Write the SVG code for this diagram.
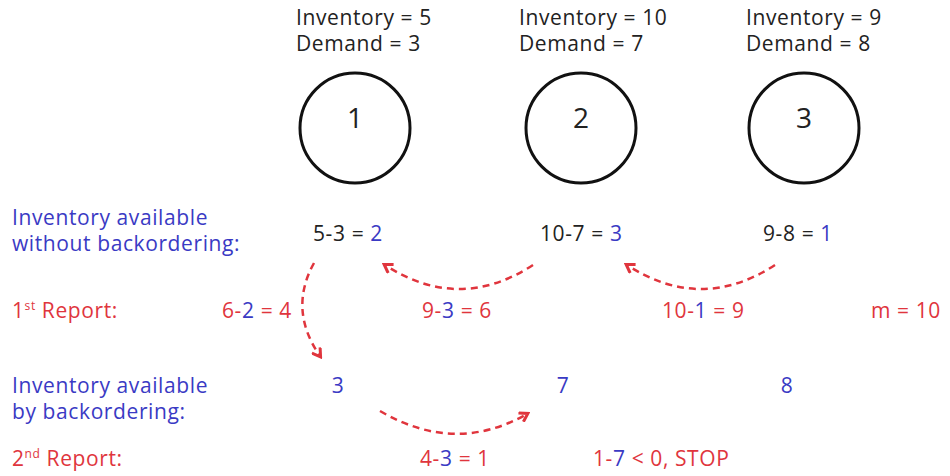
<svg xmlns="http://www.w3.org/2000/svg" width="950" height="476" viewBox="0 0 950 476">
<style>
text{font-family:"Open Sans","Liberation Sans",sans-serif;font-size:21px;letter-spacing:0.6px}
.k{fill:#222}
.b{fill:#3a3ac4}
.r{fill:#e0353d}
.big{font-size:28px;letter-spacing:0}
.node{fill:none;stroke:#111;stroke-width:3}
.arr{fill:none;stroke:#e0353d;stroke-width:2.5;stroke-dasharray:7 5;marker-end:url(#ah)}
</style>
<defs>
<marker id="ah" viewBox="0 0 12 12" refX="9" refY="6" markerWidth="12" markerHeight="12" markerUnits="userSpaceOnUse" orient="auto">
<path d="M2,1 L10,6 L2,11" fill="none" stroke="#e0353d" stroke-width="3"/>
</marker>
</defs>
<rect width="950" height="476" fill="#fff"/>
<g id="node1">
<text x="296" y="25" class="k">Inventory = 5</text>
<text x="296" y="51" class="k">Demand = 3</text>
<circle cx="355" cy="128" r="55" class="node"/>
<text x="355" y="128" text-anchor="middle" class="k big">1</text>
</g>
<g id="node2">
<text x="519" y="25" class="k">Inventory = 10</text>
<text x="519" y="51" class="k">Demand = 7</text>
<circle cx="581" cy="128" r="55" class="node"/>
<text x="581" y="128" text-anchor="middle" class="k big">2</text>
</g>
<g id="node3">
<text x="746" y="25" class="k">Inventory = 9</text>
<text x="746" y="51" class="k">Demand = 8</text>
<circle cx="804" cy="128" r="55" class="node"/>
<text x="804" y="128" text-anchor="middle" class="k big">3</text>
</g>
<g id="labels">
<text x="12" y="225" class="b">Inventory available</text>
<text x="12" y="251" class="b">without backordering:</text>
<text x="12" y="318" class="r">1<tspan font-size="12" dy="-8">st</tspan><tspan dy="8"> Report:</tspan></text>
<text x="12" y="393" class="b">Inventory available</text>
<text x="12" y="419" class="b">by backordering:</text>
<text x="12" y="466" class="r">2<tspan font-size="12" dy="-8">nd</tspan><tspan dy="8"> Report:</tspan></text>
</g>
<g id="values">
<text x="313" y="241" class="k">5-3 = <tspan class="b">2</tspan></text>
<text x="540" y="241" class="k">10-7 = <tspan class="b">3</tspan></text>
<text x="763" y="241" class="k">9-8 = <tspan class="b">1</tspan></text>
<text x="222" y="318" class="r">6-<tspan class="b">2</tspan> = 4</text>
<text x="422" y="318" class="r">9-<tspan class="b">3</tspan> = 6</text>
<text x="662" y="318" class="r">10-<tspan class="b">1</tspan> = 9</text>
<text x="871" y="318" class="r">m = 10</text>
<text x="338" y="393" text-anchor="middle" class="b">3</text>
<text x="563" y="393" text-anchor="middle" class="b">7</text>
<text x="787" y="393" text-anchor="middle" class="b">8</text>
<text x="420" y="466" class="r">4-<tspan class="b">3</tspan> = 1</text>
<text x="593" y="466" class="r">1-<tspan class="b">7</tspan> &lt; 0, STOP</text>
</g>
<g id="connectors">
<path class="arr" d="M314,263 Q288,310 320,356"/>
<path class="arr" d="M533,265 Q459,313 385,265"/>
<path class="arr" d="M775,265 Q701,313 627,265"/>
<path class="arr" d="M380,411 Q455,455 527,414"/>
</g>
</svg>
